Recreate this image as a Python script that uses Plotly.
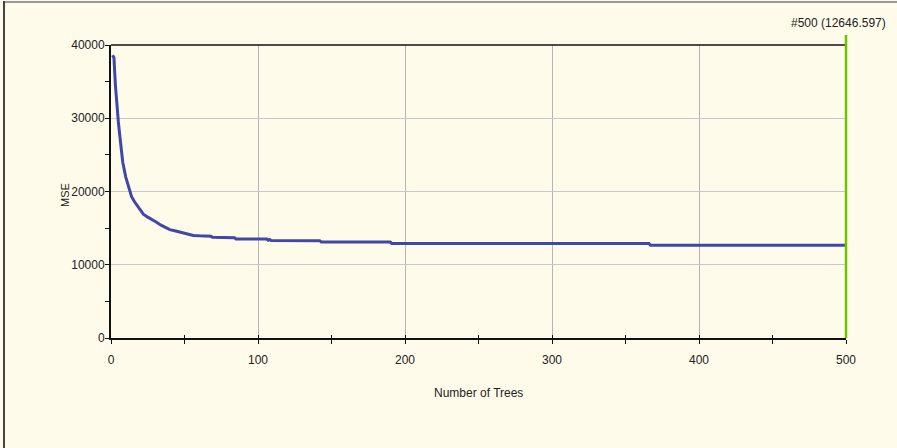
import plotly.graph_objects as go

# Out-of-bag error as the forest grows
trees = [1, 2, 3, 4, 5, 6, 7, 8, 10, 12, 14, 16, 18, 20, 22, 25, 28, 31, 34, 37,
         40, 44, 48, 52, 56, 60, 68, 69, 84, 85, 106, 107, 108, 109, 142, 143,
         190, 191, 366, 367, 500]
mse = [38600, 38300, 34500, 31500, 29500, 27600, 25500, 24000, 22000, 20500,
       19300, 18600, 18000, 17400, 16900, 16500, 16200, 15800, 15400, 15100,
       14800, 14600, 14400, 14200, 14000, 13950, 13900, 13750, 13700, 13520,
       13500, 13350, 13450, 13300, 13280, 13110, 13090, 12910, 12890, 12647,
       12646.597]

final_tree = 500
final_mse = 12646.597

x_ticks = [0, 100, 200, 300, 400, 500]
y_ticks = [0, 10000, 20000, 30000, 40000]

BG = "#FEFBEA"
FONT = "Liberation Sans, Arial, sans-serif"
TXT = "#222222"
AXIS = "#111111"

fig = go.Figure()
fig.add_trace(go.Scatter(
    x=trees, y=mse, mode="lines",
    line=dict(color="#3F47A9", width=3),
    hoverinfo="skip", showlegend=False,
))
# empty trace on the overlay axis so its inner tick marks are drawn
fig.add_trace(go.Scatter(x=[None], y=[None], xaxis="x2", yaxis="y",
                         showlegend=False, hoverinfo="skip"))

# plot-area geometry in pixels: x 111..846, y 45..338 of an 897x448 page
L, R, T, B = 111, 846, 45, 338
W, H = R - L, B - T


def px(xp):
    return (xp - L) / W


def py(yp):
    return (B - yp) / H


shapes = [
    # outer frame
    dict(type="line", xref="paper", yref="paper", x0=px(4), x1=px(897), y0=py(2), y1=py(2),
         line=dict(color="#9a9a9a", width=2)),
    dict(type="line", xref="paper", yref="paper", x0=px(4), x1=px(4), y0=py(1), y1=py(448),
         line=dict(color="#444444", width=2)),
    # top border of the plot area
    dict(type="line", xref="paper", yref="paper", x0=0, x1=1, y0=1, y1=1,
         line=dict(color=AXIS, width=1.5)),
    # marker for the selected number of trees (x = 500 sits on the right edge)
    dict(type="line", xref="paper", yref="paper", x0=1, x1=1, y0=0, y1=py(35),
         line=dict(color="#6CC300", width=2.5)),
]

annotations = [
    dict(text=f"#{final_tree} ({final_mse:.3f})",
         xref="paper", yref="paper", x=px(888), y=py(23),
         xanchor="right", yanchor="middle", showarrow=False,
         font=dict(family=FONT, size=12, color=TXT)),
    dict(text="Number of Trees",
         xref="paper", yref="paper", x=px(478), y=py(393),
         xanchor="center", yanchor="middle", showarrow=False,
         font=dict(family=FONT, size=12, color=TXT)),
    dict(text="MSE", textangle=-90,
         xref="paper", yref="paper", x=px(65), y=py(195),
         xanchor="center", yanchor="middle", showarrow=False,
         font=dict(family=FONT, size=11, color=TXT)),
]

fig.update_layout(
    width=897, height=448,
    margin=dict(l=L, r=897 - R, t=T, b=448 - B),
    paper_bgcolor=BG, plot_bgcolor=BG,
    font=dict(family=FONT, size=12, color=TXT),
    shapes=shapes,
    annotations=annotations,
    xaxis=dict(
        range=[0, 500], tickvals=x_ticks, ticktext=[str(v) for v in x_ticks],
        showgrid=True, gridcolor="#B4B4B4", gridwidth=1,
        showline=True, linecolor=AXIS, linewidth=2,
        ticks="outside", ticklen=4, tickcolor=AXIS, tickwidth=1,
        minor=dict(dtick=50, tick0=0, ticks="outside", ticklen=4,
                   tickcolor=AXIS, showgrid=False),
        ticklabelstandoff=6, zeroline=False,
    ),
    # overlay axis: the inner half of the x tick marks, which cross the axis line
    xaxis2=dict(
        overlaying="x", matches="x", anchor="y", side="bottom",
        tickvals=x_ticks, showticklabels=False, showgrid=False, showline=False,
        ticks="inside", ticklen=3, tickcolor=AXIS, tickwidth=1,
        minor=dict(dtick=50, tick0=0, ticks="inside", ticklen=3,
                   tickcolor=AXIS, showgrid=False),
        zeroline=False,
    ),
    yaxis=dict(
        range=[0, 40000], tickvals=y_ticks, ticktext=[str(v) for v in y_ticks],
        showgrid=True, gridcolor="#C8C8C8", gridwidth=1,
        showline=True, linecolor=AXIS, linewidth=2,
        ticks="outside", ticklen=4, tickcolor=AXIS, tickwidth=1,
        minor=dict(dtick=5000, tick0=0, ticks="outside", ticklen=4,
                   tickcolor=AXIS, showgrid=False),
        ticklabelstandoff=-2, zeroline=False,
    ),
)

fig.write_html("out.html")
